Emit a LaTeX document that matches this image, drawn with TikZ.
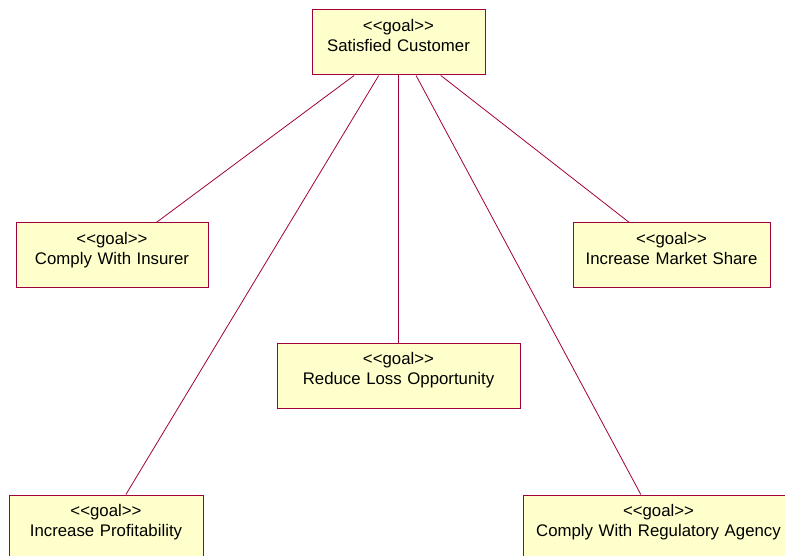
\documentclass[tikz,border=0pt]{standalone}
\usepackage{fontspec}
% plain family without TeX ligature mapping, so << and >> stay as typed
\newfontfamily\goalfont{Liberation Sans}
\definecolor{goalline}{RGB}{160,0,60}
\definecolor{goalfill}{RGB}{255,255,204}
\tikzset{
  goal/.style={draw=goalline, fill=goalfill, line width=1pt, rectangle,
    inner sep=0pt, align=center, text width=#1,
    minimum width=#1, minimum height=65pt,
    text height=21.3pt, text depth=43.7pt,
    font=\goalfont\fontsize{16.8}{19.8}\selectfont},
  link/.style={draw=goalline, line width=0.8pt}
}
\begin{document}
\begin{tikzpicture}[x=1pt,y=1pt]
  \useasboundingbox (0,0) rectangle (785,-556);
  \clip (0,0) rectangle (785,-556);
  \fill[white] (0,0) rectangle (785,-556);

  \node[goal=173pt] (top) at (398.5,-42.5) {<<goal>>\\Satisfied Customer};
  \node[goal=192pt] (ins) at (112,-255.5) {<<goal>>\\Comply With Insurer};
  \node[goal=197pt] (mkt) at (671.5,-255.5) {<<goal>>\\Increase Market Share};
  \node[goal=243pt] (red) at (398.5,-375.5) {<<goal>>\\Reduce Loss Opportunity};
  \node[goal=194pt] (pro) at (106,-527.5) {<<goal>>\\Increase Profitability};
  \node[goal=271pt] (reg) at (658.5,-527.5) {<<goal>>\\Comply With Regulatory Agency};

  \draw[link] (top) -- (ins);
  \draw[link] (top) -- (pro);
  \draw[link] (top) -- (red);
  \draw[link] (top) -- (reg);
  \draw[link] (top) -- (mkt);
\end{tikzpicture}
\end{document}
